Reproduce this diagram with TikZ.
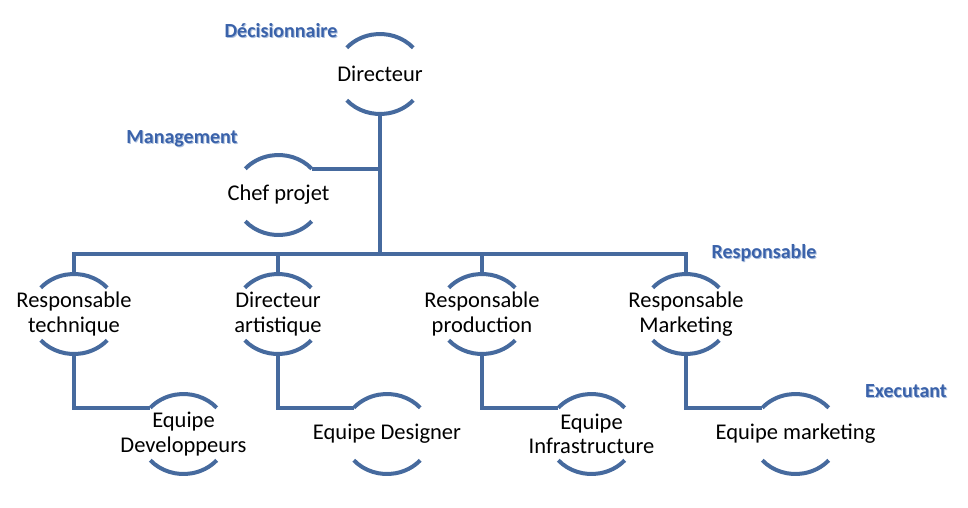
\documentclass[tikz,border=0pt]{standalone}
\usepackage{fontspec}
\setmainfont{Carlito}
\usetikzlibrary{calc}
\definecolor{linecol}{RGB}{70,106,158}
\definecolor{lblcol}{RGB}{58,98,170}
\definecolor{lblshadow}{RGB}{170,190,220}
\tikzset{
  ln/.style={draw=linecol, line width=4pt},
  txt/.style={align=center, inner sep=0pt, font=\fontsize{22.5}{24.5}\selectfont},
  lbl/.style={text=lblcol, inner sep=0pt, font=\bfseries\fontsize{20}{22}\selectfont},
  lblsh/.style={text=lblshadow, inner sep=0pt, font=\bfseries\fontsize{20}{22}\selectfont},
}
\newcommand\orgnode[3]{%
  \node[txt] (#1) at (#2) {#3};
  \draw[ln] ([shift={(41:44pt and 40pt)}]#1.center) arc[start angle=41,end angle=139,x radius=44pt,y radius=40pt];
  \draw[ln] ([shift={(221:44pt and 40pt)}]#1.center) arc[start angle=221,end angle=319,x radius=44pt,y radius=40pt];
}
\newcommand\lvllabel[3]{%
  \node[lblsh] (#1-sh) at ($(#2)+(1pt,-1pt)$) {#3};
  \node[lbl] (#1) at (#2) {#3};
}
\begin{document}
\begin{tikzpicture}[x=1pt,y=-1pt]
\useasboundingbox (0,0) rectangle (968,507);
\fill[white] (0,0) rectangle (968,507);
% level labels
\lvllabel{lD}{281,31}{Décisionnaire}
\lvllabel{lM}{182,139}{Management}
\lvllabel{lR}{764,253}{Responsable}
\lvllabel{lE}{906,391}{Executant}
% nodes
\orgnode{dir}{380,74}{Directeur}
\orgnode{cp}{278.5,195}{Chef projet}
\orgnode{rt}{74,314}{Responsable\\technique}
\orgnode{da}{278,314}{Directeur\\artistique}
\orgnode{rp}{482,314}{Responsable\\production}
\orgnode{rm}{686,314}{Responsable\\Marketing}
\orgnode{ed}{183.5,434}{Equipe\\Developpeurs}
\orgnode{eg}{387,434}{Equipe Designer}
\orgnode{ei}{591.5,434}{Equipe\\Infrastructure}
\orgnode{em}{795.5,434}{Equipe marketing}
% connectors
\coordinate (bus) at (0,254);
\coordinate (cpj) at ([shift={(41:44pt and 40pt)}]cp.center);
\draw[ln] ([yshift=-40pt]dir.center) -- (dir |- bus);
\draw[ln] (cpj) -- (cpj -| dir);
\draw[ln, line cap=rect] (rt |- bus) -- (rm |- bus);
\foreach \n in {rt,da,rp,rm}{
  \draw[ln] (\n |- bus) -- ([yshift=40pt]\n.center);
}
\foreach \p/\c in {rt/ed,da/eg,rp/ei,rm/em}{
  \coordinate (\c-j) at ([shift={(139:44pt and 40pt)}]\c.center);
  \draw[ln] ([yshift=-40pt]\p.center) |- (\c-j);
}
\end{tikzpicture}
\end{document}
